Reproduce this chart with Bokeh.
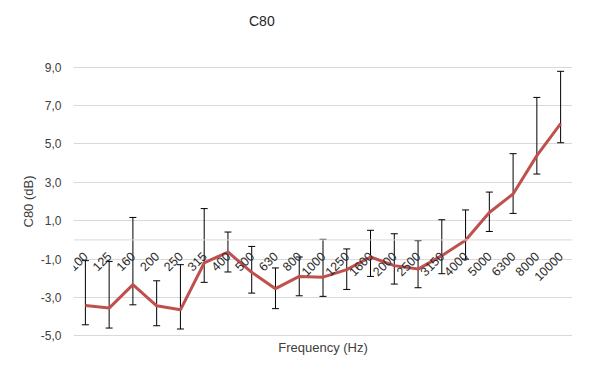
import math
from bokeh.plotting import figure
from bokeh.layouts import column
from bokeh.models import (ColumnDataSource, FactorRange, Range1d, FixedTicker,
                          CustomJSTickFormatter, Whisker, TeeHead, Span, Title, Div)
from bokeh.core.properties import value
from bokeh.embed import file_html
from bokeh.resources import INLINE

freqs = ["100", "125", "160", "200", "250", "315", "400", "500", "630", "800",
         "1000", "1250", "1600", "2000", "2500", "3150", "4000", "5000", "6300",
         "8000", "10000"]
c80 = [-3.41, -3.55, -2.33, -3.43, -3.64, -1.20, -0.63, -1.69, -2.54, -1.90,
       -1.94, -1.55, -0.89, -1.34, -1.52, -0.82, -0.02, 1.43, 2.39, 4.39, 6.05]
c80_upper = [-1.08, -1.12, 1.17, -2.13, -1.29, 1.63, 0.41, -0.34, -1.46, -0.89,
             0.03, -0.47, 0.50, 0.32, -0.04, 1.05, 1.56, 2.49, 4.49, 7.42, 8.78]
c80_lower = [-4.42, -4.59, -3.38, -4.47, -4.64, -2.21, -1.67, -2.77, -3.58, -2.91,
             -2.94, -2.58, -1.90, -2.30, -2.49, -1.76, -1.00, 0.44, 1.38, 3.43, 5.06]
y_ticks = [-5, -3, -1, 1, 3, 5, 7, 9]

FONT = "Liberation Sans"
TXT = "#404040"
TITLE_H = 34

src = ColumnDataSource(dict(f=freqs, y=c80, upper=c80_upper, lower=c80_lower,
                            zero=[0] * len(freqs)))

title_div = Div(text="C80", width=581, height=TITLE_H, margin=(0, 0, 0, 0),
                styles={"font-family": FONT, "font-size": "14px", "color": "#262626",
                        "line-height": "16px", "padding-top": "13px",
                        "padding-left": "249px", "box-sizing": "border-box"})

p = figure(x_range=FactorRange(*freqs, range_padding=0),
           y_range=Range1d(-5.03, 9.03),
           frame_width=499, frame_height=270,
           min_border_left=73, min_border_right=9,
           min_border_top=66 - TITLE_H, min_border_bottom=27,
           output_backend="svg", toolbar_location=None)
p.outline_line_color = None
p.background_fill_color = "white"
p.border_fill_color = "white"

# y axis
yax = p.yaxis[0]
yax.ticker = FixedTicker(ticks=y_ticks)
yax.formatter = CustomJSTickFormatter(code="return tick.toFixed(1).replace('.', ',');")
yax.axis_line_color = None
yax.major_tick_line_color = None
yax.minor_tick_line_color = None
yax.major_tick_out = 0
yax.major_tick_in = 0
yax.major_label_standoff = 12
yax.major_label_text_font = FONT
yax.major_label_text_font_size = "12px"
yax.major_label_text_color = TXT
yax.axis_label = "C80 (dB)"
yax.axis_label_text_font = FONT
yax.axis_label_text_font_size = "13px"
yax.axis_label_text_font_style = "normal"
yax.axis_label_text_color = TXT
yax.axis_label_standoff = 2

# x axis hidden: its tick labels are drawn at y = 0, its title below
p.xaxis.visible = False
xtitle = Title(text="Frequency (Hz)", align="center", standoff=3,
               text_font=FONT, text_font_size="13px", text_font_style="normal",
               text_color=TXT)
p.add_layout(xtitle, "below")

p.xgrid.grid_line_color = None
p.ygrid.ticker = FixedTicker(ticks=y_ticks)
p.ygrid.grid_line_color = "#D9D9D9"
p.ygrid.grid_line_width = 1

p.add_layout(Span(location=0, dimension="width", line_color="#D9D9D9", line_width=1))

p.line("f", "y", source=src, line_color="#C0504D", line_width=3)

p.add_layout(Whisker(base="f", upper="upper", lower="lower", source=src,
                     line_color="black", line_width=1,
                     upper_head=TeeHead(size=7, line_color="black", line_width=1),
                     lower_head=TeeHead(size=7, line_color="black", line_width=1)))

p.text(x="f", y="zero", text="f", source=src, angle=math.pi / 4,
       text_align="right", text_baseline="top", x_offset=-3, y_offset=11,
       text_font=value(FONT), text_font_size=value("12.5px"), text_color="#2b2b2b")

layout = column(title_div, p, spacing=0)
open("out.html", "w").write(file_html(layout, INLINE))
